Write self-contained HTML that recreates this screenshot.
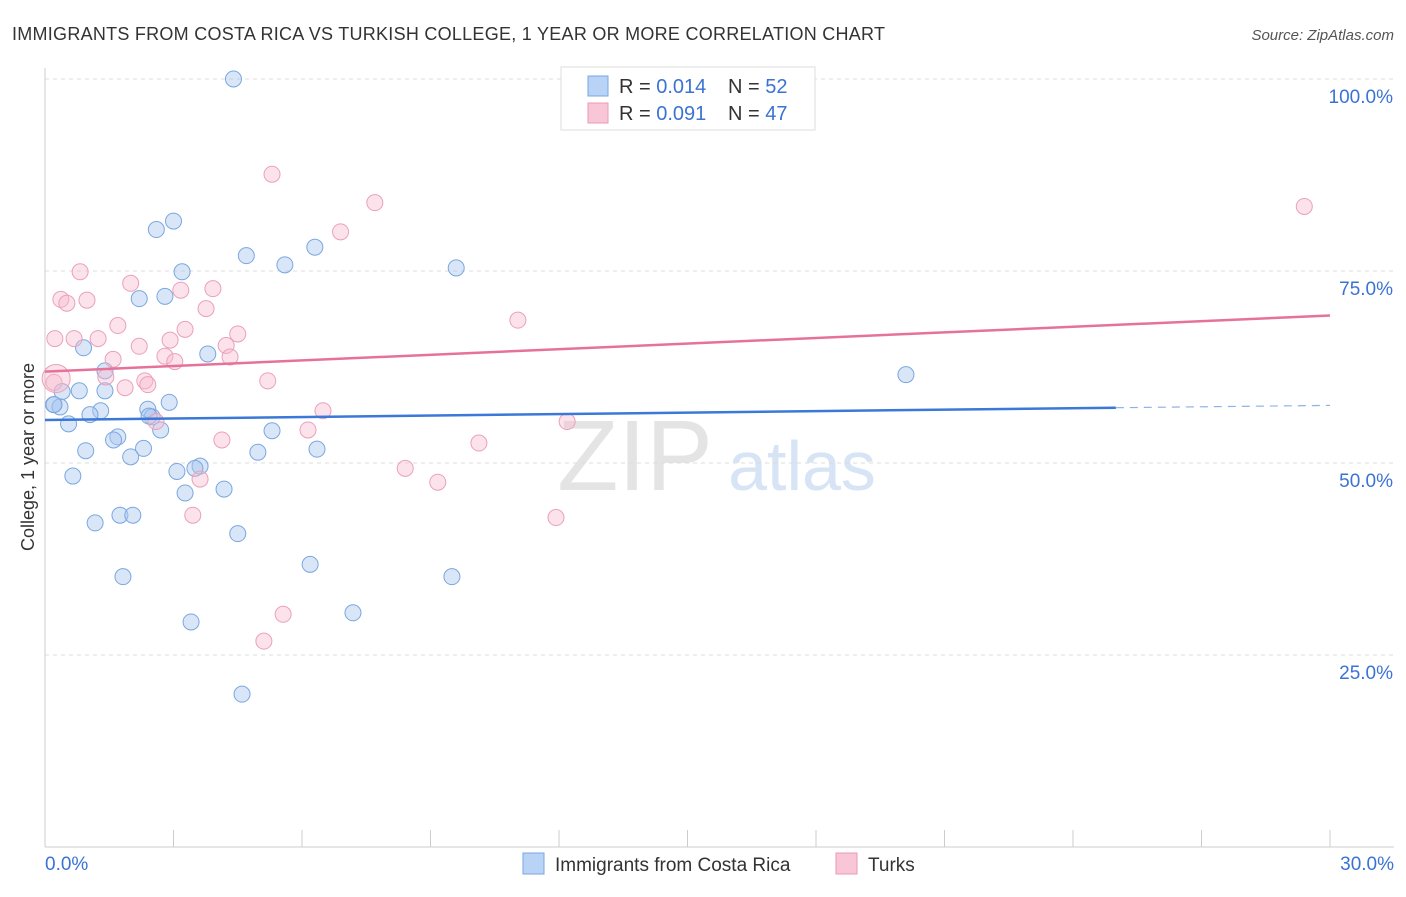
<!DOCTYPE html>
<html><head><meta charset="utf-8"><style>
body{margin:0;background:#fff;font-family:"Liberation Sans",sans-serif;}
svg text{font-family:"Liberation Sans",sans-serif;}
</style></head><body>
<svg id="c" width="1406" height="892">
<text x="12" y="40" font-size="18" fill="#333" textLength="873">IMMIGRANTS FROM COSTA RICA VS TURKISH COLLEGE, 1 YEAR OR MORE CORRELATION CHART</text>
<text x="1394" y="40" font-size="15" fill="#555" font-style="italic" text-anchor="end">Source: ZipAtlas.com</text>
<text x="635" y="490" font-size="100" fill="#e4e4e4" font-family="Liberation Serif" text-anchor="middle">ZIP</text>
<text x="802" y="490" font-size="70" fill="#d6e4f5" text-anchor="middle">atlas</text>
<text transform="translate(34,457) rotate(-90)" font-size="18" fill="#333" text-anchor="middle">College, 1 year or more</text>
<g id="grid"></g><g id="pts"></g><g id="trend"></g>
<g>
<rect x="561" y="67" width="254" height="63" fill="#fff" stroke="#ddd"/>
<rect x="588" y="76" width="20" height="20" fill="#b8d3f5" stroke="#7aa7e0"/>
<rect x="588" y="103" width="20" height="20" fill="#f8c6d6" stroke="#e89ab4"/>
<text x="619" y="93" font-size="20" fill="#333">R = <tspan fill="#3b73d4">0.014</tspan></text>
<text x="728" y="93" font-size="20" fill="#333">N = <tspan fill="#3b73d4">52</tspan></text>
<text x="619" y="120" font-size="20" fill="#333">R = <tspan fill="#3b73d4">0.091</tspan></text>
<text x="728" y="120" font-size="20" fill="#333">N = <tspan fill="#3b73d4">47</tspan></text>
</g>
<g>
<rect x="523" y="853" width="21" height="21" fill="#b8d3f5" stroke="#7aa7e0"/>
<text x="555" y="871" font-size="19" fill="#333">Immigrants from Costa Rica</text>
<rect x="836" y="853" width="21" height="21" fill="#f8c6d6" stroke="#e89ab4"/>
<text x="868" y="871" font-size="19" fill="#333">Turks</text>
</g>
</svg>
<script>
const xTicks=[0,30];
const yTicks=[25,50,75,100];
const blueX=[4.4,3.0,2.6,4.7,6.3,5.6,3.2,9.6,2.8,2.2,0.9,3.8,20.1,1.4,0.8,1.4,0.4,0.2,0.35,2.9,1.3,1.05,2.4,2.5,0.55,2.7,5.3,1.7,1.6,2.3,2.0,0.95,4.97,6.35,3.62,3.5,3.08,0.65,4.18,3.27,1.75,2.05,1.17,4.5,1.82,6.19,9.5,7.19,3.41,4.6,2.43,0.21];
const blueY=[100,81.5,80.4,77,78.1,75.8,74.9,75.4,71.7,71.4,65,64.2,61.5,62,59.4,59.4,59.3,57.6,57.3,57.9,56.8,56.3,57,56,55.1,54.3,54.2,53.4,53,51.9,50.8,51.6,51.4,51.8,49.6,49.3,48.9,48.3,46.6,46.1,43.2,43.2,42.2,40.8,35.2,36.8,35.2,30.5,29.3,19.9,56.1,57.6];
const pinkX=[12.3,5.3,7.7,29.4,6.9,0.82,2.0,0.37,3.92,3.17,0.98,0.51,3.76,1.7,3.27,4.5,0.23,0.68,1.24,2.92,2.2,4.23,2.8,4.32,1.59,3.03,1.42,5.2,0.21,2.33,2.4,1.87,11.04,6.49,2.59,12.19,6.14,4.13,10.13,8.41,3.62,9.17,3.45,11.93,5.56,5.11,0.26];
const pinkY=[95.2,87.6,83.9,83.4,80.1,74.9,73.4,71.3,72.7,72.5,71.2,70.8,70.1,67.9,67.4,66.8,66.2,66.2,66.2,66,65.2,65.3,63.9,63.8,63.5,63.2,61.2,60.7,60.5,60.7,60.2,59.8,68.6,56.8,55.4,55.4,54.3,53,52.6,49.3,47.9,47.5,43.2,42.9,30.3,26.8,61];
const blueTrend=[[0,55.6],[25,57.2]],blueDash=[[25,57.2],[30,57.5]];
const pinkTrend=[[0,61.9],[30,69.2]];
const X0=45,X1=1330,Y0=847,Y100=79;
const sx=v=>X0+(X1-X0)*v/30, sy=v=>Y0-(Y0-Y100)*v/100;
const NS="http://www.w3.org/2000/svg";
function mk(t,a,p){const e=document.createElementNS(NS,t);for(const k in a)e.setAttribute(k,a[k]);p.appendChild(e);return e;}
const g=document.getElementById('grid');
yTicks.forEach(v=>{const l=mk('line',{x1:X0,x2:1394,y1:sy(v),y2:sy(v),stroke:'#ddd','stroke-dasharray':'4,4'},g);


const t=mk('text',{x:1393,y:sy(v)+24,'font-size':19,fill:'#3b73d4','text-anchor':'end'},g);t.textContent=v.toFixed(1)+'%';

});
mk('line',{x1:X0,x2:X0,y1:68,y2:847,stroke:'#ccc'},g);
mk('line',{x1:X0,x2:1394,y1:847,y2:847,stroke:'#ccc'},g);
for(let i=1;i<=10;i++){mk('line',{x1:sx(i*3),x2:sx(i*3),y1:830,y2:847,stroke:'#ccc'},g);}
xTicks.forEach((v,i)=>{const t=mk('text',{x:i?1394:45,y:870,'font-size':19,fill:'#3b73d4','text-anchor':i?'end':'start'},g);t.textContent=v.toFixed(1)+'%';

});
const p=document.getElementById('pts');
blueX.forEach((x,i)=>{const c=mk('circle',{cx:sx(x),cy:sy(blueY[i]),r:8,fill:'rgba(170,200,240,0.45)',stroke:'#7aa7e0','stroke-width':1},p);

});
pinkX.forEach((x,i)=>{const c=mk('circle',{cx:sx(x),cy:sy(pinkY[i]),r:i==46?14:8,fill:'rgba(248,185,205,0.4)',stroke:'#eba0ba','stroke-width':1},p);

});
const tg=document.getElementById('trend');
function ln(a,col,d,name){const l=mk('line',{x1:sx(a[0][0]),y1:sy(a[0][1]),x2:sx(a[1][0]),y2:sy(a[1][1]),stroke:col,'stroke-width':d?1.2:2.5,'stroke-dasharray':d?'8,6':'none'},tg);

}
ln(blueTrend,'#3b78d8',0,'trend-costa-rica');ln(blueDash,'#8fb2e6',1,'trend-costa-rica-extrapolated');ln(pinkTrend,'#e6729a',0,'trend-turks');
</script>
</body></html>
